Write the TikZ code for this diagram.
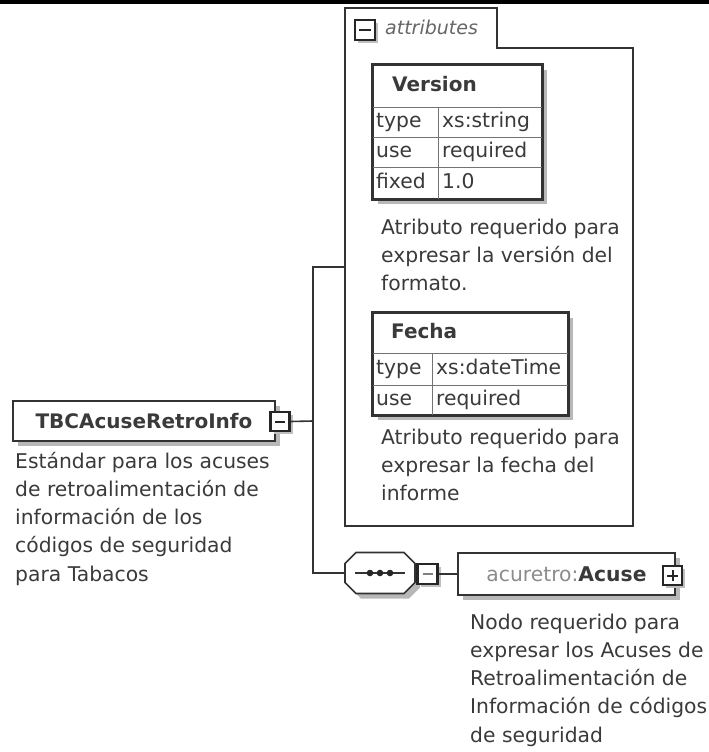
\documentclass[tikz,border=0pt]{standalone}
\usepackage{fontspec}
\setmainfont{DejaVu Sans}
\usetikzlibrary{shadows}
\definecolor{ink}{HTML}{333333}
\definecolor{txtc}{HTML}{3A3A3A}
\begin{document}
\begin{tikzpicture}[x=1pt,y=-1pt,
  every node/.style={font=\fontsize{20.3}{28.3}\selectfont, text=txtc},
  sh/.style={drop shadow={shadow xshift=5pt,shadow yshift=-5pt,fill=black!28,opacity=1}},
  smallsh/.style={drop shadow={shadow xshift=3pt,shadow yshift=-3pt,fill=black!25,opacity=1}},
  elbox/.style={draw=ink,line width=1.8pt,fill=white,inner sep=0,sh},
  pmbox/.style={draw=black!85,line width=2.2pt,fill=white,inner sep=0,minimum size=19pt,smallsh},
  pmsign/.style={draw=black!85,line width=2pt},
  conn/.style={draw=ink,line width=1.6pt},
  tbl/.style={draw=ink,line width=1.8pt,fill=white,inner sep=0,sh},
  inner/.style={draw=black!55,line width=1pt},
  cell/.style={inner sep=0,anchor=west,text height=14pt,text depth=4pt},
  desc/.style={inner sep=0,anchor=base west,align=left},
]
\useasboundingbox (0,0) rectangle (709,752);
\fill[black] (0,0) rectangle (709,4.5);

% attributes container
\node[inner sep=0,minimum width=288pt,minimum height=518pt] (attr) at (489,267) {};
\draw[ink,line width=1.7pt] (345,526) -- (345,8) -- (497,8) -- (497,48) -- (633,48) -- (633,526) -- cycle;
\node[pmbox,minimum size=20pt] (attrminus) at (365,30) {};
\draw[pmsign] ([xshift=-6pt]attrminus.center) -- ([xshift=6pt]attrminus.center);
\node[cell,text=black!60,font=\fontsize{19}{22}\selectfont\itshape] (attrlbl) at (385,30) {attributes};

% Version table
\node[tbl,minimum width=169pt,minimum height=134pt] (ver) at (457.5,132) {};
\draw[inner] (373,107) -- (542,107);
\draw[inner] (373,137) -- (542,137);
\draw[inner] (373,167) -- (542,167);
\draw[inner] (438,107) -- (438,199);
\draw[ink,line width=1.8pt] (ver.north west) rectangle (ver.south east);
\node[cell,font=\fontsize{20}{24}\selectfont\bfseries] (vername) at (392,86) {Version};
\node[cell] (vtype) at (376,122) {type};
\node[cell] (vtypev) at (442,122) {xs:string};
\node[cell] (vuse) at (376,152) {use};
\node[cell] (vusev) at (442,152) {required};
\node[cell] (vfix) at (376,183) {fixed};
\node[cell] (vfixv) at (442,183) {1.0};
\node[desc] (verdesc) at (381,290.6) {Atributo requerido para\\expresar la versión del\\formato.};

% Fecha table
\node[tbl,minimum width=195pt,minimum height=102pt] (fec) at (470.5,364) {};
\draw[inner] (373,353) -- (568,353);
\draw[inner] (373,385) -- (568,385);
\draw[inner] (432,353) -- (432,415);
\draw[ink,line width=1.8pt] (fec.north west) rectangle (fec.south east);
\node[cell,font=\fontsize{20}{24}\selectfont\bfseries] (fecname) at (391,333) {Fecha};
\node[cell] (ftype) at (376,369) {type};
\node[cell] (ftypev) at (436,369) {xs:dateTime};
\node[cell] (fuse) at (376,400) {use};
\node[cell] (fusev) at (436,400) {required};
\node[desc] (fecdesc) at (381,500.6) {Atributo requerido para\\expresar la fecha del\\informe};

% root element
\node[elbox,minimum width=262pt,minimum height=40pt,font=\fontsize{20}{24}\selectfont\bfseries] (tbca) at (144,421) {TBCAcuseRetroInfo\hspace{6pt}};
\node[pmbox] (tbminus) at (280,421.5) {};
\draw[pmsign] ([xshift=-5pt]tbminus.center) -- ([xshift=5pt]tbminus.center);
\node[desc] (tbdesc) at (15,581.2) {Estándar para los acuses\\de retroalimentación de\\información de los\\códigos de seguridad\\para Tabacos};

% sequence compositor
\node[inner sep=0,minimum width=70pt,minimum height=41pt] (oct) at (380,573) {};
\fill[black!28] (361,557.5) -- (409,557.5) -- (420,568.5) -- (420,587.5) -- (409,598.5) -- (361,598.5) -- (350,587.5) -- (350,568.5) -- cycle;
\draw[ink,line width=1.7pt,fill=white] (356,552.5) -- (404,552.5) -- (415,563.5) -- (415,582.5) -- (404,593.5) -- (356,593.5) -- (345,582.5) -- (345,563.5) -- cycle;
\draw[ink,line width=1.6pt] ([xshift=-25pt]oct.center) -- ([xshift=25pt]oct.center);
\foreach \dx in {-10,0,10} \fill[black!85] ([xshift=\dx pt]oct.center) circle (3.3pt);
\node[pmbox,minimum size=20pt] (octminus) at (427.5,574) {};
\draw[black!50,line width=1.6pt] ([xshift=-5pt]octminus.center) -- ([xshift=5pt]octminus.center);

% Acuse element
\node[elbox,minimum width=217pt,minimum height=42pt] (acuse) at (566.5,574) {\textcolor{black!45}{acuretro:}\textbf{Acuse}\hspace{10pt}};
\node[pmbox] (acplus) at (672.5,575.5) {};
\draw[pmsign] ([xshift=-5.5pt]acplus.center) -- ([xshift=5.5pt]acplus.center);
\draw[pmsign] ([yshift=-5.5pt]acplus.center) -- ([yshift=5.5pt]acplus.center);
\node[desc] (acdesc) at (470,742.2) {Nodo requerido para\\expresar los Acuses de\\Retroalimentación de\\Información de códigos\\de seguridad};

% connectors
\coordinate (j1) at (313,421);
\draw[conn] (tbminus.east) -- (j1);
\draw[conn] (j1) |- (attr.west);
\draw[conn] (j1) |- (oct.west);
\draw[conn] (octminus.east) -- (acuse.west);
\end{tikzpicture}
\end{document}
